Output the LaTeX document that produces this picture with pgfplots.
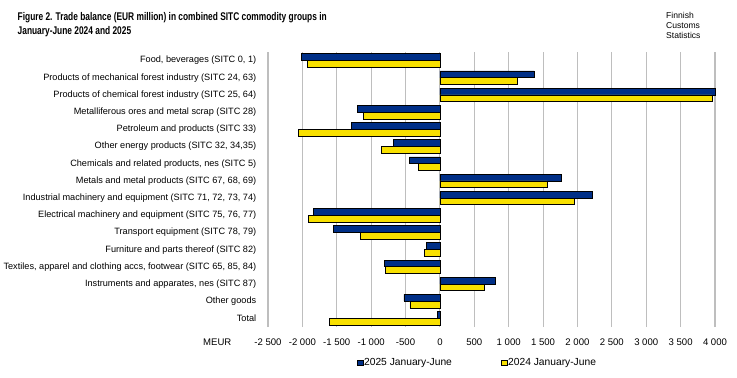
\documentclass[border=0pt]{standalone}
\usepackage{fontspec}
\setmainfont{Liberation Sans}
\newfontfamily\narrowfont[FakeStretch=0.75]{Liberation Sans}
\usepackage{pgfplots}
\pgfplotsset{compat=1.18}
\definecolor{bblue}{RGB}{0,47,135}
\definecolor{byellow}{RGB}{248,224,0}
\definecolor{gridgray}{RGB}{190,190,190}
\begin{document}
\begin{tikzpicture}
\begin{axis}[
  at={(268bp,51bp)}, anchor=south west,
  scale only axis, width=447bp, height=275bp,
  xbar, bar width=6.8bp,
  xmin=-2500, xmax=4000, ymin=-0.5, ymax=15.5,
  clip=false,
  xtick={-2500,-2000,-1500,-1000,-500,0,500,1000,1500,2000,2500,3000,3500,4000},
  ytick={0,...,15},
  yticklabels={Total, Other goods, {Instruments and apparates, nes (SITC 87)},
    {Textiles, apparel and clothing accs, footwear (SITC 65, 85, 84)},
    {Furniture and parts thereof (SITC 82)},
    {Transport equipment (SITC 78, 79)},
    {Electrical machinery and equipment (SITC 75, 76, 77)},
    {Industrial machinery and equipment (SITC 71, 72, 73, 74)},
    {Metals and metal products (SITC 67, 68, 69)},
    {Chemicals and related products, nes (SITC 5)},
    {Other energy products (SITC 32, 34,35)},
    {Petroleum and products (SITC 33)},
    {Metalliferous ores and metal scrap (SITC 28)},
    {Products of chemical forest industry (SITC 25, 64)},
    {Products of mechanical forest industry (SITC 24, 63)},
    {Food, beverages (SITC 0, 1)}},
  x axis line style={draw=none},
  y axis line style={draw=none},
  xtick style={draw=none}, ytick style={draw=none},
  xmajorgrids=true, ymajorgrids=false,
  major grid style={draw=gridgray, line width=1.1bp},
  yticklabel style={font=\fontsize{9.2}{10}\selectfont, xshift=-4bp},
  xticklabel style={font=\fontsize{9.6}{10}\selectfont, yshift=-8bp},
  /pgf/number format/.cd, 1000 sep={\ }, assume math mode=true, /pgfplots/.cd,
  legend columns=2,
  legend style={at={(0.467,-0.131)}, anchor=center, draw=none, fill=none,
    font=\fontsize{10.3}{11}\selectfont, inner sep=0pt,
    /tikz/every even column/.append style={column sep=48bp},
    nodes={inner sep=0.8bp}},
  legend image code/.code={\draw[#1, draw=black, line width=0.6bp] (0bp,-2.5bp) rectangle (6bp,2.5bp);},
]
\addplot[fill=bblue, draw=black, line width=0.8bp, bar shift=3.4bp] coordinates {
(-2010,15) (1371,14) (4007,13) (-1202,12) (-1289,11) (-679,10) (-446,9) (1768,8)
(2214,7) (-1841,6) (-1551,5) (-194,4) (-810,3) (809,2) (-523,1) (-39,0)};
\addplot[fill=byellow, draw=black, line width=0.8bp, bar shift=-3.4bp] coordinates {
(-1923,15) (1124,14) (3958,13) (-1115,12) (-2060,11) (-848,10) (-310,9) (1560,8)
(1953,7) (-1914,6) (-1158,5) (-228,4) (-795,3) (645,2) (-436,1) (-1609,0)};
\legend{2025 January-June, 2024 January-June}
\node[anchor=west, inner sep=0pt, font=\fontsize{9.6}{10}\selectfont] at (rel axis cs:0,0) [xshift=-65bp, yshift=-15bp] {MEUR};
\end{axis}
\node[anchor=base west, align=left, inner sep=0pt, font=\narrowfont\bfseries\fontsize{11.2}{13.7}\selectfont] at (17.5bp,343.7bp) {Figure 2. Trade balance (EUR million) in combined SITC commodity groups in\\January-June 2024 and 2025};
\node[anchor=base west, align=left, inner sep=0pt, font=\fontsize{8.6}{10}\selectfont] at (666bp,339.7bp) {Finnish\\Customs\\Statistics};
\pgfresetboundingbox
\path (0,0) rectangle (737bp,378bp);
\end{tikzpicture}
\end{document}
